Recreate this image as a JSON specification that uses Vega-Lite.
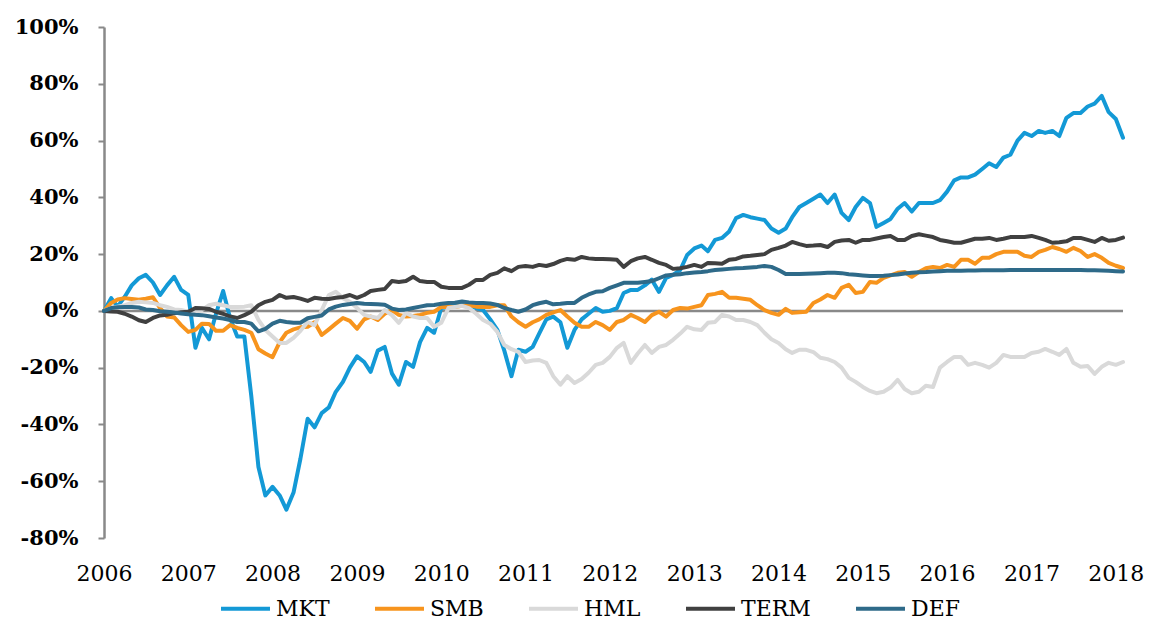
{
  "$schema": "https://vega.github.io/schema/vega-lite/v6.json",
  "width": 1019,
  "height": 511,
  "autosize": {"type": "none"},
  "padding": {"left": 104, "top": 27, "right": 31, "bottom": 83},
  "background": "white",
  "config": {"view": {"stroke": null}, "font": "DejaVu Serif"},
  "data": {
    "format": {"parse": {"date": "utc:'%Y-%m'"}},
    "values": [
      {"date":"2006-01","MKT":0,"SMB":0,"HML":0,"TERM":0,"DEF":0},
      {"date":"2006-02","MKT":4.5,"SMB":2.8,"HML":1,"TERM":-0.2,"DEF":1},
      {"date":"2006-03","MKT":1.5,"SMB":4,"HML":1.5,"TERM":-0.3,"DEF":1.3},
      {"date":"2006-04","MKT":5,"SMB":4.5,"HML":2,"TERM":-1,"DEF":1.4},
      {"date":"2006-05","MKT":9,"SMB":4.2,"HML":2.8,"TERM":-2,"DEF":1.4},
      {"date":"2006-06","MKT":11.5,"SMB":3.9,"HML":3.2,"TERM":-3.3,"DEF":1.2},
      {"date":"2006-07","MKT":12.7,"SMB":4.3,"HML":3,"TERM":-3.9,"DEF":0.5},
      {"date":"2006-08","MKT":10,"SMB":4.8,"HML":2.8,"TERM":-2.5,"DEF":0.3},
      {"date":"2006-09","MKT":5.6,"SMB":1,"HML":2,"TERM":-1.6,"DEF":-0.1},
      {"date":"2006-10","MKT":9,"SMB":-2,"HML":1.4,"TERM":-1.4,"DEF":-0.3},
      {"date":"2006-11","MKT":12,"SMB":-2.3,"HML":0.5,"TERM":-0.8,"DEF":-0.6},
      {"date":"2006-12","MKT":7.4,"SMB":-5,"HML":0.3,"TERM":-0.5,"DEF":-0.9},
      {"date":"2007-01","MKT":5.6,"SMB":-7.4,"HML":-0.3,"TERM":-0.3,"DEF":-1.2},
      {"date":"2007-02","MKT":-13,"SMB":-6.7,"HML":-0.3,"TERM":1,"DEF":-1.4},
      {"date":"2007-03","MKT":-6,"SMB":-4.5,"HML":0.3,"TERM":0.9,"DEF":-1.5},
      {"date":"2007-04","MKT":-10,"SMB":-4.6,"HML":2,"TERM":0.7,"DEF":-1.9},
      {"date":"2007-05","MKT":-1,"SMB":-7,"HML":2.5,"TERM":-0.3,"DEF":-2.3},
      {"date":"2007-06","MKT":7,"SMB":-7,"HML":2,"TERM":-1,"DEF":-2.7},
      {"date":"2007-07","MKT":-2.5,"SMB":-5,"HML":1.4,"TERM":-2,"DEF":-3.2},
      {"date":"2007-08","MKT":-9,"SMB":-6,"HML":1.4,"TERM":-2.5,"DEF":-3.9},
      {"date":"2007-09","MKT":-9,"SMB":-6.7,"HML":1.5,"TERM":-1.5,"DEF":-3.9},
      {"date":"2007-10","MKT":-30,"SMB":-7.7,"HML":2,"TERM":-0.3,"DEF":-4.5},
      {"date":"2007-11","MKT":-55,"SMB":-13.5,"HML":-3.2,"TERM":2,"DEF":-7.2},
      {"date":"2007-12","MKT":-65,"SMB":-15,"HML":-6.7,"TERM":3.2,"DEF":-6.3},
      {"date":"2008-01","MKT":-62,"SMB":-16.3,"HML":-9,"TERM":3.9,"DEF":-4.5},
      {"date":"2008-02","MKT":-65,"SMB":-11,"HML":-11.3,"TERM":5.6,"DEF":-3.5},
      {"date":"2008-03","MKT":-70,"SMB":-7.7,"HML":-11.3,"TERM":4.6,"DEF":-3.9},
      {"date":"2008-04","MKT":-64,"SMB":-6.5,"HML":-9.5,"TERM":4.9,"DEF":-4.2},
      {"date":"2008-05","MKT":-52,"SMB":-5.8,"HML":-7,"TERM":4.3,"DEF":-4.2},
      {"date":"2008-06","MKT":-38,"SMB":-5.6,"HML":-3.9,"TERM":3.5,"DEF":-2.6},
      {"date":"2008-07","MKT":-41,"SMB":-4,"HML":-5,"TERM":4.6,"DEF":-2.1},
      {"date":"2008-08","MKT":-36,"SMB":-8.5,"HML":0.3,"TERM":4.3,"DEF":-1.6},
      {"date":"2008-09","MKT":-34,"SMB":-6.5,"HML":5.6,"TERM":4.2,"DEF":0.5},
      {"date":"2008-10","MKT":-28.5,"SMB":-4.5,"HML":6.7,"TERM":4.6,"DEF":1.5},
      {"date":"2008-11","MKT":-25,"SMB":-2.5,"HML":4.5,"TERM":4.9,"DEF":2.1},
      {"date":"2008-12","MKT":-20,"SMB":-3.5,"HML":3.2,"TERM":5.6,"DEF":2.4},
      {"date":"2009-01","MKT":-16,"SMB":-6.3,"HML":1,"TERM":4.6,"DEF":2.8},
      {"date":"2009-02","MKT":-18,"SMB":-3,"HML":-1.4,"TERM":5.6,"DEF":2.5},
      {"date":"2009-03","MKT":-21.5,"SMB":-2,"HML":-2,"TERM":7,"DEF":2.4},
      {"date":"2009-04","MKT":-14,"SMB":-3.2,"HML":-2.5,"TERM":7.4,"DEF":2.3},
      {"date":"2009-05","MKT":-12.7,"SMB":-1,"HML":0.3,"TERM":7.7,"DEF":2.2},
      {"date":"2009-06","MKT":-22,"SMB":0.3,"HML":-1.5,"TERM":10.5,"DEF":0.8},
      {"date":"2009-07","MKT":-26,"SMB":-1.4,"HML":-4.2,"TERM":10.2,"DEF":0.3},
      {"date":"2009-08","MKT":-18,"SMB":-2,"HML":-0.7,"TERM":10.5,"DEF":0.5},
      {"date":"2009-09","MKT":-19.7,"SMB":-1.8,"HML":-2,"TERM":12,"DEF":1},
      {"date":"2009-10","MKT":-11,"SMB":-1.4,"HML":-2.5,"TERM":10.5,"DEF":1.5},
      {"date":"2009-11","MKT":-6,"SMB":-0.7,"HML":-2.5,"TERM":10.2,"DEF":2},
      {"date":"2009-12","MKT":-7.7,"SMB":-0.3,"HML":-5.6,"TERM":10.2,"DEF":2.1},
      {"date":"2010-01","MKT":1,"SMB":1.4,"HML":-4.2,"TERM":8.5,"DEF":2.5},
      {"date":"2010-02","MKT":1.4,"SMB":1.4,"HML":1,"TERM":8.1,"DEF":2.8},
      {"date":"2010-03","MKT":2,"SMB":1.4,"HML":1.4,"TERM":8.1,"DEF":2.9},
      {"date":"2010-04","MKT":2,"SMB":1.8,"HML":1.8,"TERM":8.1,"DEF":3.3},
      {"date":"2010-05","MKT":2,"SMB":2,"HML":1,"TERM":9.2,"DEF":3},
      {"date":"2010-06","MKT":1,"SMB":1.5,"HML":-1,"TERM":10.9,"DEF":2.8},
      {"date":"2010-07","MKT":0.3,"SMB":1.4,"HML":-3.2,"TERM":10.9,"DEF":2.8},
      {"date":"2010-08","MKT":-3,"SMB":1.4,"HML":-4.5,"TERM":12.7,"DEF":2.6},
      {"date":"2010-09","MKT":-6.7,"SMB":2,"HML":-7.4,"TERM":13.4,"DEF":2.1},
      {"date":"2010-10","MKT":-14,"SMB":2,"HML":-12,"TERM":15,"DEF":1},
      {"date":"2010-11","MKT":-23,"SMB":-2,"HML":-13.5,"TERM":14,"DEF":0.3},
      {"date":"2010-12","MKT":-13.7,"SMB":-4,"HML":-14.4,"TERM":15.5,"DEF":-0.3},
      {"date":"2011-01","MKT":-14.4,"SMB":-5.6,"HML":-18,"TERM":15.8,"DEF":0.5},
      {"date":"2011-02","MKT":-12.7,"SMB":-4,"HML":-17.5,"TERM":15.5,"DEF":2},
      {"date":"2011-03","MKT":-8,"SMB":-3,"HML":-17.3,"TERM":16.2,"DEF":2.7},
      {"date":"2011-04","MKT":-3,"SMB":-1.4,"HML":-18.3,"TERM":15.8,"DEF":3.2},
      {"date":"2011-05","MKT":-2,"SMB":-0.5,"HML":-23,"TERM":16.5,"DEF":2.3},
      {"date":"2011-06","MKT":-4,"SMB":0.3,"HML":-26,"TERM":17.6,"DEF":2.5},
      {"date":"2011-07","MKT":-13,"SMB":-2,"HML":-23,"TERM":18.3,"DEF":2.8},
      {"date":"2011-08","MKT":-6.7,"SMB":-4.2,"HML":-25.4,"TERM":18,"DEF":2.8},
      {"date":"2011-09","MKT":-3,"SMB":-5.6,"HML":-24,"TERM":19,"DEF":4.6},
      {"date":"2011-10","MKT":-1,"SMB":-5.6,"HML":-21.8,"TERM":18.5,"DEF":5.8},
      {"date":"2011-11","MKT":1,"SMB":-3.9,"HML":-19,"TERM":18.3,"DEF":6.7},
      {"date":"2011-12","MKT":-0.3,"SMB":-5,"HML":-18.3,"TERM":18.3,"DEF":6.9},
      {"date":"2012-01","MKT":0,"SMB":-6.7,"HML":-16.2,"TERM":18.2,"DEF":8.1},
      {"date":"2012-02","MKT":1,"SMB":-3.9,"HML":-13,"TERM":18,"DEF":9},
      {"date":"2012-03","MKT":6.3,"SMB":-3.2,"HML":-11.3,"TERM":15.5,"DEF":9.9},
      {"date":"2012-04","MKT":7.4,"SMB":-1.4,"HML":-18.3,"TERM":17.5,"DEF":9.9},
      {"date":"2012-05","MKT":7.4,"SMB":-2.5,"HML":-15,"TERM":18.5,"DEF":9.9},
      {"date":"2012-06","MKT":9,"SMB":-3.9,"HML":-12,"TERM":19,"DEF":10.2},
      {"date":"2012-07","MKT":11,"SMB":-1.5,"HML":-14.8,"TERM":18,"DEF":10.5},
      {"date":"2012-08","MKT":6.7,"SMB":-0.3,"HML":-12.7,"TERM":16.9,"DEF":11.5},
      {"date":"2012-09","MKT":11.6,"SMB":-2,"HML":-12,"TERM":16.2,"DEF":12.5},
      {"date":"2012-10","MKT":12.7,"SMB":0.3,"HML":-10.2,"TERM":14.8,"DEF":12.7},
      {"date":"2012-11","MKT":14.4,"SMB":1,"HML":-8,"TERM":15,"DEF":12.9},
      {"date":"2012-12","MKT":19.7,"SMB":0.8,"HML":-5.6,"TERM":15.5,"DEF":13.3},
      {"date":"2013-01","MKT":22,"SMB":1.4,"HML":-6.5,"TERM":16.2,"DEF":13.5},
      {"date":"2013-02","MKT":23,"SMB":2,"HML":-6.7,"TERM":15.5,"DEF":13.7},
      {"date":"2013-03","MKT":21,"SMB":5.6,"HML":-4.2,"TERM":16.9,"DEF":14},
      {"date":"2013-04","MKT":25,"SMB":6,"HML":-3.9,"TERM":16.8,"DEF":14.4},
      {"date":"2013-05","MKT":25.7,"SMB":6.7,"HML":-1.4,"TERM":16.6,"DEF":14.6},
      {"date":"2013-06","MKT":28,"SMB":4.6,"HML":-2,"TERM":18,"DEF":14.8},
      {"date":"2013-07","MKT":32.7,"SMB":4.6,"HML":-3.2,"TERM":18.3,"DEF":15},
      {"date":"2013-08","MKT":33.8,"SMB":4.3,"HML":-3.2,"TERM":19.2,"DEF":15.1},
      {"date":"2013-09","MKT":33,"SMB":3.9,"HML":-3.9,"TERM":19.4,"DEF":15.3},
      {"date":"2013-10","MKT":32.5,"SMB":2,"HML":-5,"TERM":19.7,"DEF":15.5},
      {"date":"2013-11","MKT":32,"SMB":0.3,"HML":-7.7,"TERM":20,"DEF":15.8},
      {"date":"2013-12","MKT":29,"SMB":-0.7,"HML":-10,"TERM":21.5,"DEF":15.5},
      {"date":"2014-01","MKT":27.5,"SMB":-1.4,"HML":-11.3,"TERM":22.2,"DEF":14.4},
      {"date":"2014-02","MKT":29,"SMB":0.7,"HML":-13.5,"TERM":23,"DEF":13},
      {"date":"2014-03","MKT":33,"SMB":-0.7,"HML":-14.8,"TERM":24.3,"DEF":13},
      {"date":"2014-04","MKT":36.6,"SMB":-0.5,"HML":-13.7,"TERM":23.5,"DEF":13},
      {"date":"2014-05","MKT":38,"SMB":-0.3,"HML":-13.7,"TERM":22.9,"DEF":13.1},
      {"date":"2014-06","MKT":39.5,"SMB":2.8,"HML":-14.5,"TERM":23,"DEF":13.2},
      {"date":"2014-07","MKT":41,"SMB":4,"HML":-16.5,"TERM":23.2,"DEF":13.3},
      {"date":"2014-08","MKT":38,"SMB":5.6,"HML":-17,"TERM":22.5,"DEF":13.4},
      {"date":"2014-09","MKT":41,"SMB":4.6,"HML":-18,"TERM":24.3,"DEF":13.4},
      {"date":"2014-10","MKT":34.5,"SMB":8.1,"HML":-20,"TERM":24.8,"DEF":13.3},
      {"date":"2014-11","MKT":32,"SMB":9.2,"HML":-23.6,"TERM":25,"DEF":12.9},
      {"date":"2014-12","MKT":36.6,"SMB":6.3,"HML":-25,"TERM":24,"DEF":12.7},
      {"date":"2015-01","MKT":39.8,"SMB":6.7,"HML":-26.8,"TERM":25,"DEF":12.5},
      {"date":"2015-02","MKT":38,"SMB":10.2,"HML":-28.2,"TERM":25,"DEF":12.3},
      {"date":"2015-03","MKT":29.6,"SMB":9.9,"HML":-29,"TERM":25.5,"DEF":12.3},
      {"date":"2015-04","MKT":31,"SMB":11.6,"HML":-28.5,"TERM":26,"DEF":12.4},
      {"date":"2015-05","MKT":32.4,"SMB":12.5,"HML":-27,"TERM":26.4,"DEF":12.6},
      {"date":"2015-06","MKT":36,"SMB":13.4,"HML":-24.3,"TERM":25,"DEF":12.8},
      {"date":"2015-07","MKT":38,"SMB":13.7,"HML":-27.5,"TERM":25,"DEF":13.2},
      {"date":"2015-08","MKT":35,"SMB":12,"HML":-29,"TERM":26.4,"DEF":13.4},
      {"date":"2015-09","MKT":38,"SMB":13.7,"HML":-28.5,"TERM":27,"DEF":13.6},
      {"date":"2015-10","MKT":38,"SMB":15,"HML":-26.4,"TERM":26.5,"DEF":13.7},
      {"date":"2015-11","MKT":38,"SMB":15.5,"HML":-26.8,"TERM":26,"DEF":13.9},
      {"date":"2015-12","MKT":39,"SMB":15.1,"HML":-20,"TERM":25,"DEF":14},
      {"date":"2016-01","MKT":42,"SMB":16.2,"HML":-18,"TERM":24.5,"DEF":14.1},
      {"date":"2016-02","MKT":46,"SMB":15.5,"HML":-16.2,"TERM":24,"DEF":14.1},
      {"date":"2016-03","MKT":47,"SMB":18,"HML":-16.2,"TERM":24,"DEF":14.1},
      {"date":"2016-04","MKT":47,"SMB":18,"HML":-19,"TERM":24.7,"DEF":14.2},
      {"date":"2016-05","MKT":48,"SMB":16.6,"HML":-18.3,"TERM":25.4,"DEF":14.2},
      {"date":"2016-06","MKT":50,"SMB":18.7,"HML":-19,"TERM":25.4,"DEF":14.3},
      {"date":"2016-07","MKT":52,"SMB":18.7,"HML":-20,"TERM":25.7,"DEF":14.3},
      {"date":"2016-08","MKT":50.7,"SMB":20,"HML":-18.3,"TERM":25,"DEF":14.3},
      {"date":"2016-09","MKT":54,"SMB":20.8,"HML":-15.5,"TERM":25.4,"DEF":14.3},
      {"date":"2016-10","MKT":55,"SMB":20.8,"HML":-16.2,"TERM":26,"DEF":14.4},
      {"date":"2016-11","MKT":60,"SMB":20.8,"HML":-16.2,"TERM":26,"DEF":14.4},
      {"date":"2016-12","MKT":62.7,"SMB":19.4,"HML":-16.2,"TERM":26,"DEF":14.4},
      {"date":"2017-01","MKT":61.6,"SMB":19,"HML":-14.8,"TERM":26.4,"DEF":14.4},
      {"date":"2017-02","MKT":63.4,"SMB":20.8,"HML":-14.4,"TERM":25.7,"DEF":14.4},
      {"date":"2017-03","MKT":62.7,"SMB":21.5,"HML":-13.4,"TERM":25,"DEF":14.4},
      {"date":"2017-04","MKT":63.4,"SMB":22.5,"HML":-14.4,"TERM":24,"DEF":14.4},
      {"date":"2017-05","MKT":61.6,"SMB":21.8,"HML":-15.5,"TERM":24.2,"DEF":14.4},
      {"date":"2017-06","MKT":68,"SMB":20.8,"HML":-13.4,"TERM":24.5,"DEF":14.4},
      {"date":"2017-07","MKT":69.7,"SMB":22.2,"HML":-18.3,"TERM":25.7,"DEF":14.4},
      {"date":"2017-08","MKT":69.7,"SMB":21.1,"HML":-19.7,"TERM":25.7,"DEF":14.4},
      {"date":"2017-09","MKT":72,"SMB":19,"HML":-19.4,"TERM":25,"DEF":14.3},
      {"date":"2017-10","MKT":73,"SMB":20,"HML":-22.2,"TERM":24.3,"DEF":14.3},
      {"date":"2017-11","MKT":75.7,"SMB":18.7,"HML":-19.7,"TERM":25.7,"DEF":14.2},
      {"date":"2017-12","MKT":70,"SMB":16.9,"HML":-18.3,"TERM":24.7,"DEF":14.1},
      {"date":"2018-01","MKT":67.6,"SMB":15.9,"HML":-19,"TERM":25,"DEF":14},
      {"date":"2018-02","MKT":61,"SMB":15.1,"HML":-18,"TERM":25.8,"DEF":13.9}
    ]
  },
  "layer": [
    {
      "data": {"values": [{"value": 0}]},
      "mark": {"type": "rule", "color": "#898989", "strokeWidth": 2.5},
      "encoding": {
        "y": {
          "field": "value", "type": "quantitative",
          "scale": {"domain": [-80, 100], "nice": false},
          "axis": {
            "title": null, "grid": false,
            "values": [-80, -60, -40, -20, 0, 20, 40, 60, 80, 100],
            "labelExpr": "datum.value + '%'",
            "domainColor": "#898989", "domainWidth": 2.5,
            "tickColor": "#898989", "tickWidth": 2, "tickSize": 6,
            "labelPadding": 20, "labelFont": "DejaVu Serif", "labelFontWeight": "bold",
            "labelFontSize": 21, "labelColor": "#000000"
          }
        }
      }
    },
    {
      "transform": [{"fold": ["MKT", "SMB", "HML", "TERM", "DEF"], "as": ["series", "value"]}],
      "mark": {"type": "line", "strokeWidth": 4, "strokeJoin": "round", "strokeCap": "round"},
      "encoding": {
        "x": {
          "field": "date",
          "type": "temporal",
          "scale": {"type": "utc", "domain": [{"year": 2006, "month": 1, "date": 1, "utc": true}, {"year": 2018, "month": 2, "date": 1, "utc": true}]},
          "axis": {
            "title": null, "domain": false, "ticks": false, "grid": false,
            "format": "%Y", "formatType": "utc",
            "tickCount": {"interval": "year", "step": 1},
            "labelPadding": 25, "labelFontSize": 22, "labelFont": "DejaVu Serif",
            "labelColor": "#000000", "labelOverlap": false, "labelFlush": false
          }
        },
        "y": {
          "field": "value",
          "type": "quantitative",
          "scale": {"domain": [-80, 100], "nice": false},
          "axis": {
            "title": null, "grid": false,
            "values": [-80, -60, -40, -20, 0, 20, 40, 60, 80, 100],
            "labelExpr": "datum.value + '%'",
            "domainColor": "#898989", "domainWidth": 2.5,
            "tickColor": "#898989", "tickWidth": 2, "tickSize": 6,
            "labelPadding": 20, "labelFont": "DejaVu Serif", "labelFontWeight": "bold",
            "labelFontSize": 21, "labelColor": "#000000"
          }
        },
        "color": {
          "field": "series",
          "type": "nominal",
          "sort": ["MKT", "SMB", "HML", "TERM", "DEF"],
          "scale": {"domain": ["MKT", "SMB", "HML", "TERM", "DEF"], "range": ["#1399D6", "#F7941D", "#D9D9D9", "#404040", "#2E6A89"]},
          "legend": {
            "orient": "none", "legendX": 115, "legendY": 555, "direction": "horizontal", "columns": 5,
            "title": null, "symbolType": "stroke", "symbolStrokeWidth": 4, "symbolSize": 2400,
            "labelFontSize": 22, "labelFont": "DejaVu Serif", "labelColor": "#000000",
            "columnPadding": 37, "labelOffset": 4
          }
        }
      }
    }
  ]
}
